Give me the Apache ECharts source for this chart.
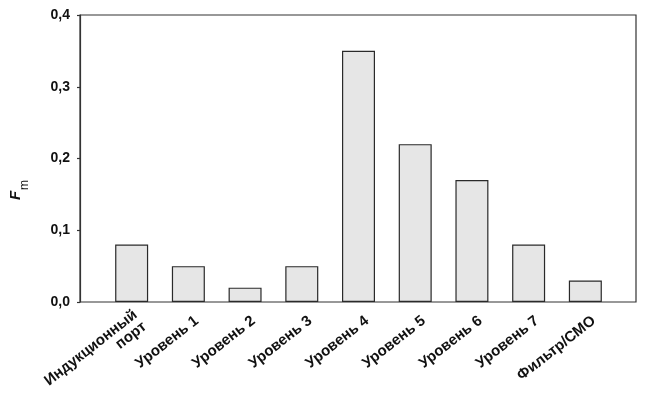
<!DOCTYPE html>
<html>
<head>
<meta charset="utf-8">
<script src="https://cdn.jsdelivr.net/npm/echarts@6/dist/echarts.min.js"></script>
<style>html,body{margin:0;padding:0;background:#fff}#c{width:647px;height:396px}</style>
</head>
<body>
<div id="c"></div>
<script>
var categories = ['Индукционный\nпорт','Уровень 1','Уровень 2','Уровень 3','Уровень 4','Уровень 5','Уровень 6','Уровень 7','Фильтр/СМО'];
var values = [0.08, 0.05, 0.02, 0.05, 0.35, 0.22, 0.17, 0.08, 0.03];
var yTickLabels = ['0,0','0,1','0,2','0,3','0,4'];
var yMin = 0, yMax = 0.4, yStep = 0.1;

var chart = echarts.init(document.getElementById('c'), null, {renderer:'canvas'});
var font = 'Liberation Sans, Arial, sans-serif';
chart.setOption({
  animation: false,
  grid: [
    {left: 80, right: 11, top: 15, bottom: 94, outerBoundsMode: 'none', containLabel: false, show: true, borderColor: '#333', borderWidth: 1.2, backgroundColor: 'transparent'},
    {left: 103.3, right: 33.3, top: 15, bottom: 94, outerBoundsMode: 'none', containLabel: false},
    {left: 111.8, right: 24.8, top: 15, bottom: 94, outerBoundsMode: 'none', containLabel: false}
  ],
  xAxis: [
    {gridIndex: 0, type: 'value', min: 0, max: 1, show: false},
    {gridIndex: 1, type: 'category', data: categories,
     axisLine: {show: false}, axisTick: {show: false}, axisLabel: {show: false}},
    {gridIndex: 2, type: 'category', data: categories,
     axisLine: {show: false}, axisTick: {show: false},
     axisLabel: {rotate: 38, margin: 17, interval: 0, color: '#111', fontFamily: font, fontWeight: 'bold', fontSize: 15, lineHeight: 15}}
  ],
  yAxis: [
    {gridIndex: 0, type: 'value', min: yMin, max: yMax, interval: yStep,
     splitLine: {show: false},
     axisLine: {show: true, lineStyle: {color: '#333', width: 1.2}},
     axisTick: {show: true, length: 3, inside: false, lineStyle: {color: '#333', width: 1.2}},
     axisLabel: {margin: 10, color: '#111', fontFamily: font, fontWeight: 'bold', fontSize: 14,
       formatter: function (v, i) { return yTickLabels[i]; }}},
    {gridIndex: 1, type: 'value', min: yMin, max: yMax, show: false},
    {gridIndex: 2, type: 'value', min: yMin, max: yMax, show: false}
  ],
  series: [{
    type: 'bar', xAxisIndex: 1, yAxisIndex: 1, data: values, barWidth: 33,
    itemStyle: {color: '#e6e6e6', borderColor: '#2a2a2a', borderWidth: 1.2}
  }],
  graphic: [
    {type: 'text', x: 23, y: 200, rotation: Math.PI/2,
     style: {text: 'F', font: 'italic bold 15px ' + font, fill: '#111', textAlign: 'left', textVerticalAlign: 'bottom'}},
    {type: 'text', x: 31, y: 190, rotation: Math.PI/2,
     style: {text: 'm', font: '12px ' + font, fill: '#111', textAlign: 'left', textVerticalAlign: 'bottom'}}
  ]
});
</script>
</body>
</html>
